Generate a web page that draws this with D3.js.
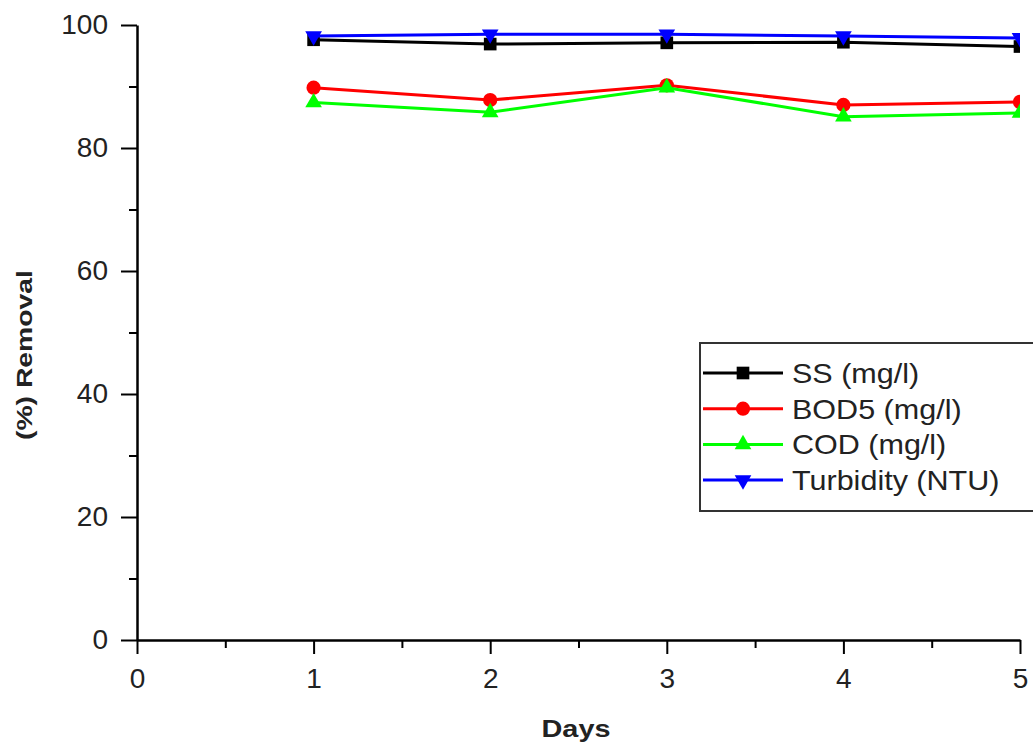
<!DOCTYPE html>
<html>
<head lang="en">
    <meta charset="UTF-8">
    <title>% Removal by day</title>
    <script src="https://cdnjs.cloudflare.com/ajax/libs/d3/7.8.5/d3.min.js"></script>
    <style>
        body { margin: 0; background: #fff; }
        text { font-family: Arial, "Liberation Sans", sans-serif; fill: #222; }
        .axis path, .axis line { stroke: #000; }
        .axis text { font-size: 28px; }
        .label { font-weight: bold; }
        .legend text { font-size: 28px; }
    </style>
</head>
<body>
<script>

    var days = [1, 2, 3, 4, 5];

    var ss = [97.6, 96.9, 97.1, 97.2, 96.5],
        bod5 = [89.8, 87.8, 90.2, 87.0, 87.5],
        cod = [87.4, 85.8, 89.8, 85.1, 85.7],
        turbidity = [98.2, 98.5, 98.5, 98.2, 97.9];

    var seriesNames = ["SS (mg/l)", "BOD5 (mg/l)", "COD (mg/l)", "Turbidity (NTU)"];
    var seriesColors = ["#000000", "#ff0000", "#00ff00", "#0000ff"];
    var seriesSymbols = [d3.symbolSquare, d3.symbolCircle, d3.symbolTriangle, "down"];

    var xMajor = [0, 1, 2, 3, 4, 5],
        xMinor = [0.5, 1.5, 2.5, 3.5, 4.5];
    var yMajor = [0, 20, 40, 60, 80, 100],
        yMinor = [10, 30, 50, 70, 90];

    var width = 1033,
        height = 747;

    var plotLeft = 137, plotRight = 1020, plotTop = 25, plotBottom = 640;

    var x = d3.scaleLinear().domain([0, 5]).range([plotLeft, plotRight]);
    var y = d3.scaleLinear().domain([0, 100]).range([plotBottom, plotTop]);

    var svg = d3.select("body").append("svg")
        .attr("width", width)
        .attr("height", height);

    // clip the data to the layer frame, like the original plot does
    svg.append("clipPath").attr("id", "frame")
        .append("rect")
        .attr("x", plotLeft).attr("y", 0)
        .attr("width", plotRight - plotLeft).attr("height", plotBottom);

    // minor ticks first, then major ones with labels
    svg.append("g").attr("class", "axis")
        .attr("transform", "translate(0," + plotBottom + ")")
        .call(d3.axisBottom(x).tickValues(xMinor).tickSize(8).tickSizeOuter(0).tickFormat(""))
        .call(function(g) { g.select(".domain").remove(); });
    svg.append("g").attr("class", "axis")
        .attr("transform", "translate(" + plotLeft + ",0)")
        .call(d3.axisLeft(y).tickValues(yMinor).tickSize(8).tickSizeOuter(0).tickFormat(""))
        .call(function(g) { g.select(".domain").remove(); });

    svg.append("g").attr("class", "axis")
        .attr("transform", "translate(0," + plotBottom + ")")
        .call(d3.axisBottom(x).tickValues(xMajor).tickSize(14).tickSizeOuter(0).tickPadding(14).tickFormat(d3.format("d")));
    svg.append("g").attr("class", "axis")
        .attr("transform", "translate(" + plotLeft + ",0)")
        .call(d3.axisLeft(y).tickValues(yMajor).tickSize(16).tickSizeOuter(0).tickPadding(13).tickFormat(d3.format("d")));

    svg.selectAll(".axis line").attr("stroke-width", 2);
    svg.selectAll(".axis .domain").attr("stroke-width", 2.5);

    // axis titles
    svg.append("text").attr("class", "label")
        .attr("x", 576).attr("y", 737)
        .attr("text-anchor", "middle")
        .attr("font-size", 24)
        .attr("textLength", 69).attr("lengthAdjust", "spacingAndGlyphs")
        .text("Days");

    svg.append("text").attr("class", "label")
        .attr("transform", "translate(32,355) rotate(-90)")
        .attr("text-anchor", "middle")
        .attr("font-size", 22)
        .attr("textLength", 170).attr("lengthAdjust", "spacingAndGlyphs")
        .text("(%) Removal");

    var allSeries = [ss, bod5, cod, turbidity];

    var line = d3.line()
        .x(function(d, i) { return x(days[i]); })
        .y(function(d) { return y(d); });

    function symbolPath(s) {
        if (s === "down") {
            return d3.symbol().type(d3.symbolTriangle).size(120)();
        }
        var size = s === d3.symbolSquare ? 160 : (s === d3.symbolCircle ? 160 : 120);
        return d3.symbol().type(s).size(size)();
    }

    var plot = svg.append("g").attr("clip-path", "url(#frame)");

    allSeries.forEach(function(values, k) {
        plot.append("path")
            .datum(values)
            .attr("fill", "none")
            .attr("stroke", seriesColors[k])
            .attr("stroke-width", 3)
            .attr("d", line);

        plot.selectAll(".m" + k)
            .data(values)
            .enter().append("path")
            .attr("class", "m" + k)
            .attr("fill", seriesColors[k])
            .attr("d", symbolPath(seriesSymbols[k]))
            .attr("transform", function(d, i) {
                var t = "translate(" + x(days[i]) + "," + y(d) + ")";
                return seriesSymbols[k] === "down" ? t + " rotate(180)" : t;
            });
    });

    // legend
    var legend = svg.append("g").attr("class", "legend");
    legend.append("rect")
        .attr("x", 700).attr("y", 343)
        .attr("width", 345).attr("height", 168)
        .attr("fill", "#fff")
        .attr("stroke", "#333")
        .attr("stroke-width", 2);

    var rows = legend.selectAll(".row")
        .data(seriesNames)
        .enter().append("g")
        .attr("class", "row")
        .attr("transform", function(d, i) { return "translate(0," + (373 + i * 35.7) + ")"; });

    rows.append("line")
        .attr("x1", 703).attr("x2", 783)
        .attr("stroke", function(d, i) { return seriesColors[i]; })
        .attr("stroke-width", 3);

    rows.append("path")
        .attr("fill", function(d, i) { return seriesColors[i]; })
        .attr("d", function(d, i) { return symbolPath(seriesSymbols[i]); })
        .attr("transform", function(d, i) {
            return seriesSymbols[i] === "down" ? "translate(743,0) rotate(180)" : "translate(743,0)";
        });

    // the original legend text is a little wider than the font's natural width
    rows.append("text")
        .attr("x", 792)
        .attr("dy", "0.35em")
        .text(function(d) { return d; })
        .each(function() {
            var w = this.getComputedTextLength();
            d3.select(this).attr("textLength", w * 1.09).attr("lengthAdjust", "spacingAndGlyphs");
        });

</script>
</body>
</html>
